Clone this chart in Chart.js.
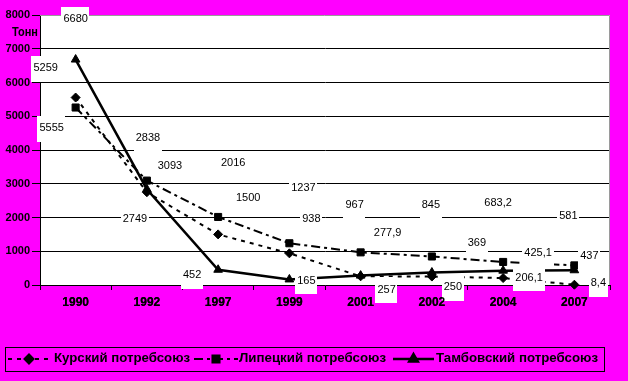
<!DOCTYPE html>
<html>
<head>
<meta charset="utf-8">
<script src="https://cdn.jsdelivr.net/npm/chart.js@4.4.1/dist/chart.umd.min.js"></script>
<style>
html,body{margin:0;padding:0;background:#ff00ff;}
canvas{display:block;}
</style>
</head>
<body>
<canvas id="c" width="628" height="381"></canvas>
<script>
// ---- data ----
const categories = ['1990', '1992', '1997', '1999', '2001', '2002', '2004', '2007'];
const kurskValues = [5555, 2749, 1500, 938, 257, 250, 206.1, 8.4];
const lipetskValues = [5259, 3093, 2016, 1237, 967, 845, 683.2, 581];
const tambovValues = [6680, 2838, 452, 165, 277.9, 369, 425.1, 437];
const seriesNames = ['Курский потребсоюз', 'Липецкий потребсоюз', 'Тамбовский потребсоюз'];
const yTickValues = [0, 1000, 2000, 3000, 4000, 5000, 6000, 7000, 8000];
const yUnit = 'Тонн';

// ---- label placement (layout offsets from each point, px) ----
const kurskLabelShift = [[-24,30],[-12,26],[30,-37],[22,-35],[26,13],[21,10],[26,-1],[24,-2]];
const lipetskLabelShift = [[-30,-40],[23,-15],[15,-54],[14,-56],[-6,-48],[-1,-52],[-5,-59],[-6,-50]];
const tambovLabelShift = [[0,-41],[1,-52],[-26,5],[17,1],[27,-43],[45,-30],[35,-18],[15,-15]];
const labelShifts = [kurskLabelShift, lipetskLabelShift, tambovLabelShift];

// legend layout
const legendSlots = [{x1:8,x2:50,tx:54,tw:136},{x1:194,x2:238,tx:239,tw:147},{x1:393,x2:434,tx:436,tw:162}];

const fmt = v => String(v).replace('.', ',');
const FONT = '"Liberation Sans", Arial, sans-serif';

const bgPlugin = {
  id: 'bg',
  beforeDraw(chart) {
    const {ctx, chartArea: a} = chart;
    ctx.save();
    ctx.fillStyle = '#ff00ff';
    ctx.fillRect(0, 0, chart.width, chart.height);
    ctx.fillStyle = '#ffffff';
    ctx.fillRect(a.left, a.top, a.right - a.left, a.bottom - a.top);
    ctx.restore();
  },
  beforeDatasetsDraw(chart) {
    const {ctx, chartArea: a} = chart;
    ctx.save();
    ctx.strokeStyle = '#9a9a9a';
    ctx.lineWidth = 1;
    ctx.beginPath();
    ctx.moveTo(a.left, a.top + 0.5);
    ctx.lineTo(a.right - 0.5, a.top + 0.5);
    ctx.lineTo(a.right - 0.5, a.bottom);
    ctx.stroke();
    ctx.restore();
  },
  afterDatasetsDraw(chart) {
    const ctx = chart.ctx;
    ctx.save();
    ctx.font = '11px ' + FONT;
    ctx.textAlign = 'center';
    ctx.textBaseline = 'middle';
    chart.data.datasets.forEach((ds, i) => {
      const meta = chart.getDatasetMeta(i);
      ds.data.forEach((v, j) => {
        const el = meta.data[j];
        const sh = labelShifts[i][j];
        const x = el.x + sh[0], y = el.y + sh[1];
        const t = fmt(v);
        const w = ctx.measureText(t).width;
        ctx.fillStyle = '#ffffff';
        ctx.fillRect(Math.round(x - w / 2 - 2), Math.round(y - 12), Math.round(w + 4), 26);
        ctx.fillStyle = '#000000';
        ctx.fillText(t, x, y + 0.5);
      });
    });
    ctx.restore();
    // category labels sit on top of the value label boxes
    chart.scales.x.drawLabels(chart.chartArea);
  },
  afterDraw(chart) {
    const ctx = chart.ctx;
    const a = chart.chartArea;
    ctx.save();
    // unit title
    ctx.fillStyle = '#000';
    ctx.font = 'bold 13px ' + FONT;
    ctx.textAlign = 'left';
    ctx.textBaseline = 'middle';
    const uw = ctx.measureText(yUnit).width;
    ctx.save();
    ctx.translate(12, 32);
    ctx.scale(26 / uw, 1);
    ctx.fillText(yUnit, 0, 0);
    ctx.restore();
    // legend box
    ctx.strokeStyle = '#000';
    ctx.lineWidth = 1;
    ctx.strokeRect(5.5, 347.5, 599, 24);
    const ly = 359;
    chart.data.datasets.forEach((ds, i) => {
      const s = legendSlots[i];
      ctx.save();
      ctx.strokeStyle = '#000';
      ctx.lineWidth = ds.borderWidth;
      ctx.setLineDash(ds.borderDash || []);
      ctx.beginPath();
      ctx.moveTo(s.x1, ly);
      ctx.lineTo(s.x2, ly);
      ctx.stroke();
      ctx.setLineDash([]);
      ctx.fillStyle = '#000';
      Chart.helpers.drawPoint(ctx, {pointStyle: ds.pointStyle, radius: ds.pointRadius, rotation: 0, borderWidth: 1}, (s.x1 + s.x2) / 2, ly);
      ctx.restore();
      ctx.save();
      ctx.font = 'bold 12px ' + FONT;
      ctx.textAlign = 'left';
      ctx.textBaseline = 'middle';
      const w = ctx.measureText(ds.label).width;
      ctx.translate(s.tx, ly);
      ctx.scale(s.tw / w, 1);
      ctx.fillStyle = '#000';
      ctx.fillText(ds.label, 0, 0);
      ctx.restore();
    });
    ctx.restore();
  }
};

const common = {borderColor: '#000', backgroundColor: '#000', pointBackgroundColor: '#000', pointBorderColor: '#000', pointBorderWidth: 1, fill: false, tension: 0, clip: 10};

new Chart(document.getElementById('c'), {
  type: 'line',
  data: {
    labels: categories,
    datasets: [
      Object.assign({label: seriesNames[0], data: kurskValues, borderWidth: 2, borderDash: [4, 5], pointStyle: 'rectRot', pointRadius: 4.5, order: 2}, common),
      Object.assign({label: seriesNames[1], data: lipetskValues, borderWidth: 2, borderDash: [9, 4, 3, 4], pointStyle: 'rect', pointRadius: 5, order: 1}, common),
      Object.assign({label: seriesNames[2], data: tambovValues, borderWidth: 2.5, pointStyle: 'triangle', pointRadius: 5, order: 0}, common)
    ]
  },
  options: {
    responsive: false,
    animation: false,
    events: [],
    layout: {padding: {left: 0, top: 15, right: 18, bottom: 66}},
    plugins: {legend: {display: false}, tooltip: {enabled: false}},
    scales: {
      x: {
        offset: true,
        afterFit(s) { s.height = 30; },
        grid: {display: true, drawOnChartArea: false, offset: true, tickLength: 5, tickColor: '#000', color: '#000'},
        border: {display: true, color: '#000', width: 1},
        ticks: {color: '#000', padding: 5, font: {family: FONT, size: 12, weight: 'bold'}, maxRotation: 0}
      },
      y: {
        min: yTickValues[0],
        max: yTickValues[yTickValues.length - 1],
        afterFit(s) { s.width = 40; },
        afterBuildTicks(s) { s.ticks = yTickValues.map(v => ({value: v})); },
        grid: {
          color: c => (c.tick && (c.tick.value === yTickValues[0] || c.tick.value === yTickValues[yTickValues.length - 1])) ? 'rgba(0,0,0,0)' : '#000',
          tickColor: '#000', tickLength: 8, lineWidth: 1
        },
        border: {display: true, color: '#000', width: 1},
        ticks: {color: '#000', padding: 2, callback: v => String(v), font: {family: FONT, size: 11, weight: 'bold'}}
      }
    }
  },
  plugins: [bgPlugin]
});
</script>
</body>
</html>
